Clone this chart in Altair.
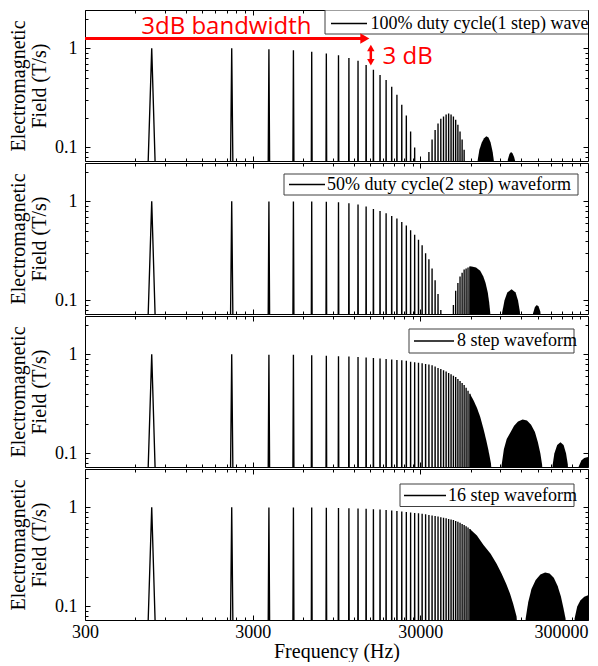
import altair as alt
import pandas as pd

# ------------------------------------------------------------------ data
# odd harmonics of the ~750 Hz fundamental that are drawn as separate spikes
harmonic_freq_hz = [750, 2250, 3750, 5250, 6750, 8250, 9750, 11250, 12750, 14250,
                    15750, 17250, 18750, 20250, 21750, 23250, 24750, 26250, 27750, 29250,
                    30750, 32250, 33750, 35250, 36750, 38250, 39750, 41250, 42750, 44250,
                    45750, 47250, 48750, 50250, 51750, 53250, 54750, 56250, 57750, 59250]

p1_amp = [1.0, 1.0, 0.98, 0.96, 0.925, 0.89, 0.85, 0.80, 0.75, 0.68,
          0.61, 0.54, 0.48, 0.41, 0.34, 0.27, 0.21, 0.145, 0.10, 0.05,
          0.01, 0.05, 0.09, 0.12, 0.15, 0.175, 0.195, 0.205, 0.215, 0.22,
          0.215, 0.205, 0.19, 0.17, 0.145, 0.12, 0.095, 0.07, 0.05, 0.03]
p2_amp = [1.0, 1.0, 1.0, 1.0, 1.0, 0.99, 0.98, 0.96, 0.93, 0.89,
          0.84, 0.80, 0.76, 0.71, 0.67, 0.62, 0.57, 0.51, 0.46, 0.41,
          0.36, 0.30, 0.26, 0.21, 0.16, 0.116, 0.08, 0.05, 0.02, 0.01,
          0.05, 0.09, 0.125, 0.15, 0.175, 0.19, 0.205, 0.21, 0.215, 0.22]
p3_amp = [1.0, 1.0, 0.99, 0.99, 0.98, 0.97, 0.96, 0.95, 0.94, 0.93,
          0.92, 0.91, 0.90, 0.89, 0.88, 0.87, 0.86, 0.845, 0.835, 0.825,
          0.815, 0.80, 0.79, 0.775, 0.755, 0.73, 0.71, 0.69, 0.67, 0.65,
          0.63, 0.61, 0.59, 0.565, 0.54, 0.515, 0.49, 0.46, 0.43, 0.40]
p4_amp = [1.0, 1.0, 1.0, 1.0, 1.0, 0.99, 0.985, 0.98, 0.975, 0.97,
          0.96, 0.95, 0.94, 0.93, 0.92, 0.91, 0.90, 0.89, 0.88, 0.87,
          0.86, 0.85, 0.84, 0.83, 0.82, 0.81, 0.795, 0.785, 0.775, 0.765,
          0.755, 0.745, 0.73, 0.715, 0.70, 0.68, 0.665, 0.645, 0.625, 0.605]

# envelopes of the densely packed (solid black) lobes
p1_lobe3_hz = [64500, 66000, 67500, 69750, 72000, 74250, 76500, 78750, 81000, 82500, 83250]
p1_lobe3_amp = [0.05, 0.075, 0.095, 0.112, 0.124, 0.13, 0.126, 0.112, 0.09, 0.072, 0.05]
p1_lobe4_hz = [98250, 99750, 102000, 104250, 106500, 108750, 110250, 111750]
p1_lobe4_amp = [0.05, 0.075, 0.086, 0.09, 0.087, 0.08, 0.073, 0.05]

p2_lobe2_hz = [59250, 60750, 64500, 68250, 71250, 73500, 75750, 77250, 78375, 79500]
p2_lobe2_amp = [0.22, 0.22, 0.215, 0.20, 0.175, 0.15, 0.12, 0.095, 0.075, 0.05]
p2_lobe3_hz = [90750, 92250, 95250, 99000, 105000, 111000, 114750, 117750, 119250]
p2_lobe3_amp = [0.05, 0.075, 0.10, 0.12, 0.13, 0.12, 0.10, 0.077, 0.05]
p2_lobe4_hz = [139500, 141000, 144750, 148500, 152250, 156000, 158250]
p2_lobe4_amp = [0.05, 0.074, 0.086, 0.09, 0.087, 0.077, 0.05]

p3_main_hz = [59250, 62250, 65250, 68250, 71250, 74250, 76500, 79125, 81000]
p3_main_amp = [0.40, 0.345, 0.29, 0.235, 0.18, 0.135, 0.107, 0.079, 0.05]
p3_lobe2_hz = [90000, 91500, 94500, 98250, 102750, 108750, 114750, 122250, 129750,
               137250, 144750, 150750, 156000, 159750, 162000]
p3_lobe2_amp = [0.05, 0.075, 0.11, 0.14, 0.16, 0.19, 0.21, 0.22, 0.215,
                0.195, 0.165, 0.13, 0.10, 0.077, 0.05]
p3_lobe3_hz = [182250, 184500, 189000, 196500, 205500, 214500, 222000, 227250, 230250]
p3_lobe3_amp = [0.05, 0.076, 0.10, 0.122, 0.13, 0.122, 0.10, 0.078, 0.05]
p3_lobe4_hz = [261000, 264000, 273750, 285000, 300000, 307500]
p3_lobe4_amp = [0.05, 0.074, 0.085, 0.09, 0.092, 0.092]

p4_main_hz = [59250, 65250, 71250, 78750, 85500, 91500, 97500, 102750, 107250, 112500, 114750]
p4_main_amp = [0.605, 0.52, 0.42, 0.34, 0.27, 0.215, 0.17, 0.135, 0.107, 0.079, 0.05]
p4_lobe2_hz = [125250, 127500, 132000, 138000, 146250, 156000, 166500, 177000, 187500,
               198000, 207000, 214500, 220500, 223500]
p4_lobe2_amp = [0.05, 0.076, 0.11, 0.15, 0.185, 0.21, 0.22, 0.215, 0.195,
                0.16, 0.125, 0.095, 0.075, 0.05]
p4_lobe3_hz = [246000, 249750, 258750, 270000, 285000, 300000, 307500]
p4_lobe3_amp = [0.05, 0.076, 0.10, 0.115, 0.125, 0.13, 0.13]

series_labels = ["100% duty cycle(1 step) waveform", "50% duty cycle(2 step) waveform",
                 "8 step waveform", "16 step waveform"]

x_major = [300, 3000, 30000, 300000]
x_minor = [600, 900, 1200, 1500, 1800, 2100, 2400, 2700,
           6000, 9000, 12000, 15000, 18000, 21000, 24000, 27000,
           60000, 90000, 120000, 150000, 180000, 210000, 240000, 270000]
y_major = [0.1, 1]
y_minor = [0.08, 0.09, 0.2, 0.3, 0.4, 0.5, 0.6, 0.7, 0.8, 0.9, 2]

# annotation (top panel)
bw_text = ["3dB bandwidth"]
bw_text_hz = [2090]
bw_text_amp = [1.41]
bw_arrow_start_hz = [300]
bw_arrow_end_hz = [14000]
bw_arrow_amp = [1.26]
db_text = ["3 dB"]
db_text_hz = [17850]
db_text_amp = [0.69]
db_arrow_hz = [15200]
db_arrow_top = [1.0]
db_arrow_bottom = [0.73]
db_head_top = [1.01]
db_head_bottom = [0.725]

# ------------------------------------------------------------------ style
W, H = 503, 151
SERIF = "Liberation Serif"
RED = "#ff0000"
SPIKE_HALF_WIDTH_HZ = 38
SPIKE_FOOT = 0.06

xs = alt.Scale(type="log", domain=[300, 300000], nice=False)
ys = alt.Scale(type="log", domain=[0.073, 2.44], nice=False)


def spikes_df(amps):
    rows = []
    for k, (f, a) in enumerate(zip(harmonic_freq_hz, amps)):
        if a <= SPIKE_FOOT:
            continue
        rows.append({"id": k, "o": 0, "freq": f - SPIKE_HALF_WIDTH_HZ, "amp": SPIKE_FOOT})
        rows.append({"id": k, "o": 1, "freq": f, "amp": a})
        rows.append({"id": k, "o": 2, "freq": f + SPIKE_HALF_WIDTH_HZ, "amp": SPIKE_FOOT})
    return pd.DataFrame(rows)


def lobes_df(lobes):
    rows = []
    for j, (fs, am) in enumerate(lobes):
        for f, a in zip(fs, am):
            rows.append({"lobe": j, "freq": f, "amp": a, "floor": 0.01})
    return pd.DataFrame(rows)


anchor = pd.DataFrame({"freq": [1000.0], "amp": [1.0]})


def tick_layer(xorient, xvals, xsize, yorient, yvals, ysize):
    return alt.Chart(anchor).mark_point(opacity=0, clip=True).encode(
        x=alt.X("freq:Q", scale=xs, axis=alt.Axis(
            orient=xorient, offset=-H, values=xvals, tickSize=xsize, labels=False,
            domain=False, grid=False, title=None, tickColor="black", tickWidth=1)),
        y=alt.Y("amp:Q", scale=ys, axis=alt.Axis(
            orient=yorient, offset=-W, values=yvals, tickSize=ysize, labels=False,
            domain=False, grid=False, title=None, tickColor="black", tickWidth=1)),
    )


def panel(amps, lobes, label, legend, bottom=False, annotate=False):
    x_axis = alt.Axis(
        orient="bottom", values=x_major, format="d", ticks=False, domain=False, grid=False,
        labels=bottom, labelFont=SERIF, labelFontSize=18, labelColor="black", labelPadding=3,
        labelAlign={"expr": "datum.value >= 300000 ? 'right' : 'center'"},
        title="Frequency (Hz)" if bottom else None, titleFont=SERIF, titleFontSize=20,
        titleFontWeight="normal", titleColor="black", titlePadding=0)
    y_axis = alt.Axis(
        orient="left", values=y_major, format="~g", ticks=False, domain=False, grid=False,
        labelFont=SERIF, labelFontSize=18, labelColor="black", labelPadding=8,
        title=["Electromagnetic", "Field (T/s)"], titleFont=SERIF, titleFontSize=20,
        titleFontWeight="normal", titleColor="black", titlePadding=5, titleLineHeight=21)

    spikes = alt.Chart(spikes_df(amps)).mark_line(color="black", strokeWidth=1.35, clip=True).encode(
        x=alt.X("freq:Q", scale=xs, axis=x_axis),
        y=alt.Y("amp:Q", scale=ys, axis=y_axis),
        detail="id:N",
        order="o:Q",
    )
    area = alt.Chart(lobes_df(lobes)).mark_area(color="black", clip=True).encode(
        x=alt.X("freq:Q", scale=xs, axis=None),
        y=alt.Y("amp:Q", scale=ys, axis=None),
        y2="floor:Q",
        detail="lobe:N",
    )
    layers = [area, spikes,
              tick_layer("top", x_major, 5, "right", y_major, 5),
              tick_layer("top", x_minor, 3, "right", y_minor, 3),
              tick_layer("bottom", x_major, 5, "left", y_major, 5),
              tick_layer("bottom", x_minor, 3, "left", y_minor, 3)]

    # legend geometry given as distances from the right edge of the plot
    bx1, bx2, by1, by2, lx1, lx2, ly, tx = legend
    lab = pd.DataFrame({"label": [label]})
    layers.append(alt.Chart(lab).mark_rect(fill="white", stroke="#404040", strokeWidth=1, clip=True).encode(
        x=alt.value(W - bx1), x2=alt.value(W - bx2), y=alt.value(by1), y2=alt.value(by2)))
    layers.append(alt.Chart(lab).mark_rule(color="black", strokeWidth=1.3, clip=True).encode(
        x=alt.value(W - lx1), x2=alt.value(W - lx2), y=alt.value(ly)))
    layers.append(alt.Chart(lab).mark_text(align="left", baseline="middle", font=SERIF, fontSize=18,
                                           color="black", clip=True).encode(
        x=alt.value(W - tx), y=alt.value(ly), text="label:N"))

    if annotate:
        bw = pd.DataFrame({"t": bw_text, "f": bw_text_hz, "a": bw_text_amp})
        arr = pd.DataFrame({"f1": bw_arrow_start_hz, "f2": bw_arrow_end_hz, "a": bw_arrow_amp})
        db = pd.DataFrame({"t": db_text, "f": db_text_hz, "a": db_text_amp})
        va = pd.DataFrame({"f": db_arrow_hz, "a1": db_arrow_top, "a2": db_arrow_bottom,
                           "h1": db_head_top, "h2": db_head_bottom})
        X = lambda fld: alt.X(fld, scale=xs, axis=None)
        Y = lambda fld: alt.Y(fld, scale=ys, axis=None)
        layers += [
            alt.Chart(arr).mark_rule(color=RED, strokeWidth=3, clip=True).encode(
                x=X("f1:Q"), x2="f2:Q", y=Y("a:Q")),
            alt.Chart(arr).mark_point(shape="triangle-right", filled=True, color=RED, size=110,
                                      opacity=1, clip=True).encode(x=X("f2:Q"), y=Y("a:Q")),
            alt.Chart(bw).mark_text(font="Open Sans", fontSize=24, color=RED, align="center",
                                    baseline="alphabetic", clip=True).encode(
                x=X("f:Q"), y=Y("a:Q"), text="t:N"),
            alt.Chart(va).mark_rule(color=RED, strokeWidth=2.5, clip=True).encode(
                x=X("f:Q"), y=Y("a1:Q"), y2="a2:Q"),
            alt.Chart(va).mark_point(shape="triangle-up", filled=True, color=RED, size=55,
                                     opacity=1, clip=True).encode(x=X("f:Q"), y=Y("h1:Q")),
            alt.Chart(va).mark_point(shape="triangle-down", filled=True, color=RED, size=55,
                                     opacity=1, clip=True).encode(x=X("f:Q"), y=Y("h2:Q")),
            alt.Chart(db).mark_text(font="Open Sans", fontSize=24, color=RED, align="left",
                                    baseline="alphabetic", clip=True).encode(
                x=X("f:Q"), y=Y("a:Q"), text="t:N"),
        ]

    return alt.layer(*layers).resolve_axis(x="independent", y="independent").properties(width=W, height=H)


p1 = panel(p1_amp, [(p1_lobe3_hz, p1_lobe3_amp), (p1_lobe4_hz, p1_lobe4_amp)], series_labels[0],
           (263, -60, 0, 24, 257, 221, 13.5, 217.5), annotate=True)
p2 = panel(p2_amp, [(p2_lobe2_hz, p2_lobe2_amp), (p2_lobe3_hz, p2_lobe3_amp), (p2_lobe4_hz, p2_lobe4_amp)],
           series_labels[1], (304, 10, 11, 32, 299, 263, 21.5, 261))
p3 = panel(p3_amp, [(p3_main_hz, p3_main_amp), (p3_lobe2_hz, p3_lobe2_amp), (p3_lobe3_hz, p3_lobe3_amp),
                    (p3_lobe4_hz, p3_lobe4_amp)],
           series_labels[2], (179, 14, 13, 37, 174, 134, 25, 131))
p4 = panel(p4_amp, [(p4_main_hz, p4_main_amp), (p4_lobe2_hz, p4_lobe2_amp), (p4_lobe3_hz, p4_lobe3_amp)],
           series_labels[3], (188, 14, 15, 37.5, 184, 142, 26.5, 140), bottom=True)

chart = alt.vconcat(p1, p2, p3, p4, spacing=0).properties(
    padding={"left": 0, "top": 1, "right": 0, "bottom": 0}
).configure_view(stroke="black", strokeWidth=1)

chart.save("out.html", embed_options={"renderer": "svg", "actions": False})
